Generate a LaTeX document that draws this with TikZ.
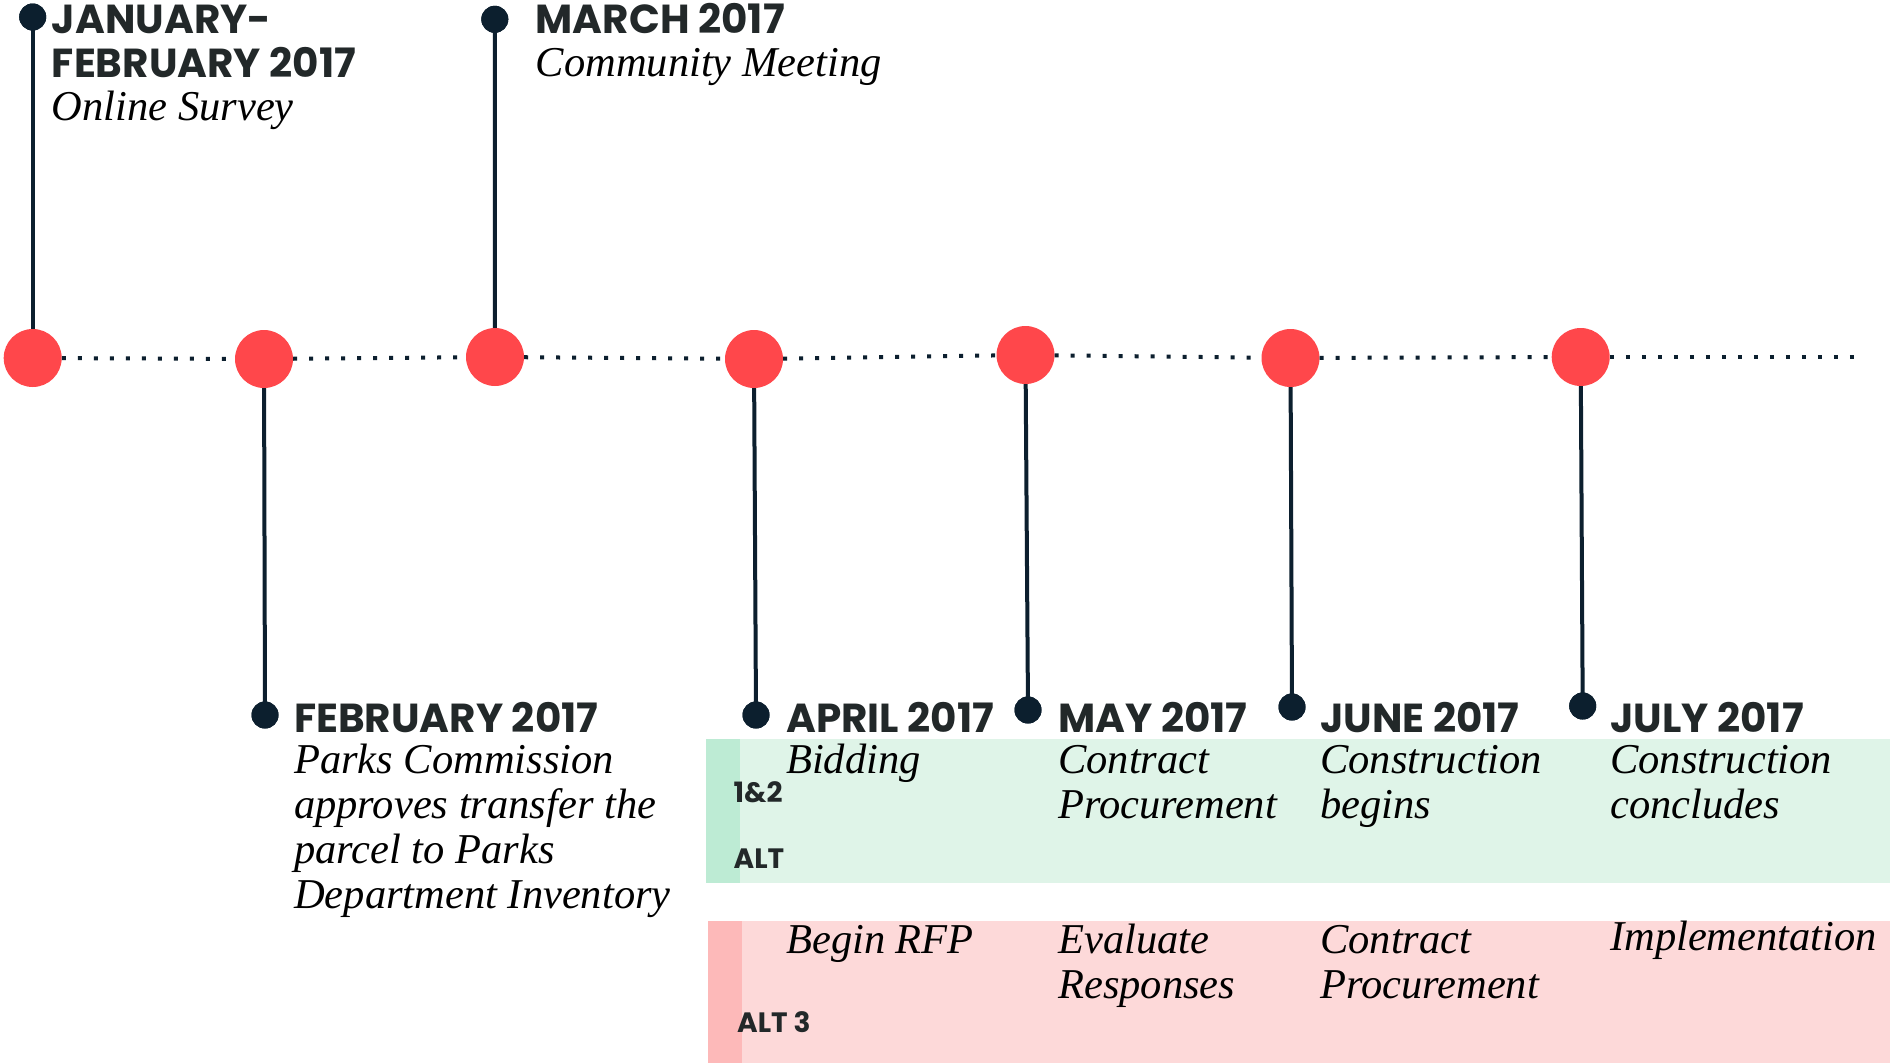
\documentclass[tikz,border=0pt]{standalone}
\usepackage{fontspec}
\newfontfamily\headfont{Poppins}
\newfontfamily\bodyfont{Liberation Serif}
\definecolor{circred}{HTML}{FF474B}
\definecolor{navy}{HTML}{0C1F2E}
\definecolor{headc}{HTML}{222829}
\definecolor{greenband}{HTML}{DFF4E8}
\definecolor{greenstrip}{HTML}{BDEBD4}
\definecolor{redband}{HTML}{FDD9D9}
\definecolor{redstrip}{HTML}{FDB9B9}
\newcommand{\linesbox}[1]{\begin{tabular}[t]{@{}l@{}}#1\end{tabular}}
\begin{document}
\begin{tikzpicture}[x=1pt,y=-1pt,
  redc/.style={circle,fill=circred,minimum size=58pt,inner sep=0pt},
  darkdot/.style={circle,fill=navy,minimum size=27pt,inner sep=0pt},
  stem/.style={draw=navy,line width=4pt},
  dotline/.style={draw=navy,line width=4pt,dash pattern=on 4pt off 12pt},
  head/.style={anchor=base west,inner sep=0pt,text=headc,font=\headfont\bfseries\fontsize{40.5}{44.4}\selectfont},
  tag/.style={anchor=base west,inner sep=0pt,text=headc,font=\headfont\bfseries\fontsize{28}{30}\selectfont},
  body/.style={anchor=base west,inner sep=0pt,text=black,font=\bodyfont\itshape\fontsize{42.5}{45}\selectfont},
]
\useasboundingbox (0,0) rectangle (1890,1063);
\fill[white] (0,0) rectangle (1890,1063);

% bands
\fill[greenband] (706,739) rectangle (1890,883);
\fill[greenstrip] (706,739) rectangle (740,883);
\fill[redband] (708,921) rectangle (1890,1063);
\fill[redstrip] (708,921) rectangle (742,1063);

% timeline circles
\node[redc] (c1) at (32.7,358) {};
\node[redc] (c2) at (264,359) {};
\node[redc] (c3) at (495,357) {};
\node[redc] (c4) at (754,359) {};
\node[redc] (c5) at (1025.5,355) {};
\node[redc] (c6) at (1290.5,358) {};
\node[redc] (c7) at (1580.7,357) {};
\coordinate (lend) at (1862,357);

% dark dots
\node[darkdot] (d1) at (32.7,17) {};
\node[darkdot] (d2) at (265,715) {};
\node[darkdot] (d3) at (494.8,19.3) {};
\node[darkdot] (d4) at (756,715) {};
\node[darkdot] (d5) at (1028,710) {};
\node[darkdot] (d6) at (1292,707) {};
\node[darkdot] (d7) at (1582.7,706) {};

% dotted line between circles
\draw[dotline] (c1) -- (c2);
\draw[dotline] (c2) -- (c3);
\draw[dotline] (c3) -- (c4);
\draw[dotline] (c4) -- (c5);
\draw[dotline] (c5) -- (c6);
\draw[dotline] (c6) -- (c7);
\draw[dotline] (c7) -- (lend);

% stems
\foreach \i in {1,...,7} {\draw[stem] (d\i.center) -- (c\i);}
\foreach \i in {1,...,7} {\fill[navy] (d\i) circle (13.5pt);}

% top texts
\node[head] (h1) at (51.7,33.3) {\linesbox{JANUARY-\\FEBRUARY 2017}};
\node[body] (b1) at (51.7,120) {Online Survey};
\node[head] (h3) at (535.6,33.3) {MARCH 2017};
\node[body] (b3) at (535.6,76) {Community Meeting};

% bottom texts
\node[head] (h2) at (294,732) {FEBRUARY 2017};
\node[body] (b2) at (294,773) {\linesbox{Parks Commission\\approves transfer the\\parcel to Parks\\Department Inventory}};
\node[head] (h4) at (786,732) {APRIL 2017};
\node[head] (h5) at (1058,732) {MAY 2017};
\node[head] (h6) at (1320,732) {JUNE 2017};
\node[head] (h7) at (1610,732) {JULY 2017};

\node[body] (g4) at (786,773) {Bidding};
\node[body] (g5) at (1058,773) {\linesbox{Contract\\Procurement}};
\node[body] (g6) at (1320,773) {\linesbox{Construction\\begins}};
\node[body] (g7) at (1610,773) {\linesbox{Construction\\concludes}};

\node[body] (r4) at (786,953) {Begin RFP};
\node[body] (r5) at (1058,953) {\linesbox{Evaluate\\Responses}};
\node[body] (r6) at (1320,953) {\linesbox{Contract\\Procurement}};
\node[body] (r7) at (1610,950) {Implementation};

% alt tags
\node[tag] (t1) at (733.5,802) {1\&2};
\node[tag] (t2) at (733.5,868) {ALT};
\node[tag] (t3) at (737,1032) {ALT 3};
\end{tikzpicture}
\end{document}
